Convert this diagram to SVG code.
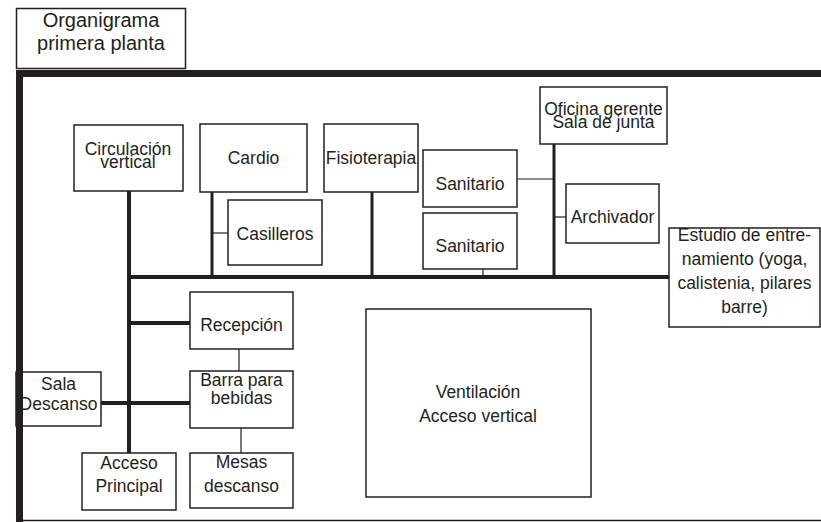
<svg xmlns="http://www.w3.org/2000/svg" width="821" height="522" viewBox="0 0 821 522">
<style>
.box{fill:#fff;stroke:#231f20;stroke-width:1.5}
.t{font-family:"Liberation Sans",Arial,sans-serif;font-size:17.5px;fill:#231f20;text-anchor:middle}
.title{font-size:20px}
.thick{stroke:#231f20;stroke-width:4;fill:none}
.mid{stroke:#231f20;stroke-width:3;fill:none}
.thin{stroke:#231f20;stroke-width:1.2;fill:none}
.frame{fill:#231f20}
</style>
<rect width="821" height="522" fill="#fff"/>
<g id="title">
<rect class="box" x="16.5" y="8.5" width="169" height="60"/>
<text class="t title" x="101" y="27">Organigrama</text>
<text class="t title" x="101" y="50">primera planta</text>
</g>
<g id="frame">
<rect class="frame" x="16" y="70" width="805" height="7"/>
<rect class="frame" x="16" y="70" width="7" height="452"/>
<line x1="16" y1="520.5" x2="821" y2="520.5" stroke="#231f20" stroke-width="1.5"/>
</g>
<g id="connectors">
<line class="thick" x1="129" y1="191" x2="129" y2="453"/>
<line class="thick" x1="127" y1="277" x2="669" y2="277"/>
<line class="mid" x1="212" y1="192" x2="212" y2="277"/>
<line class="thin" x1="212" y1="233" x2="228" y2="233"/>
<line class="mid" x1="372" y1="192" x2="372" y2="277"/>
<line class="mid" x1="554" y1="144" x2="554" y2="277"/>
<line class="thin" x1="517" y1="179" x2="554" y2="179"/>
<line class="thin" x1="554" y1="217" x2="566" y2="217"/>
<line class="thin" x1="483" y1="269" x2="483" y2="277"/>
<line class="thick" x1="129" y1="323" x2="190" y2="323"/>
<line class="thick" x1="101" y1="403" x2="190" y2="403"/>
<line class="thin" x1="239" y1="349" x2="239" y2="371"/>
<line class="thin" x1="241" y1="428" x2="241" y2="453"/>
</g>
<g id="circulacion">
<rect class="box" x="74" y="125" width="109" height="66"/>
<text class="t" x="128" y="155">Circulación</text>
<text class="t" x="128" y="168">vertical</text>
</g>
<g id="cardio">
<rect class="box" x="200" y="124" width="107" height="68"/>
<text class="t" x="253.5" y="164">Cardio</text>
</g>
<g id="casilleros">
<rect class="box" x="228" y="200" width="94" height="65"/>
<text class="t" x="275" y="240">Casilleros</text>
</g>
<g id="fisioterapia">
<rect class="box" x="324" y="124" width="94" height="68"/>
<text class="t" x="371" y="164">Fisioterapia</text>
</g>
<g id="sanitario1">
<rect class="box" x="423" y="150" width="94" height="57"/>
<text class="t" x="470" y="190">Sanitario</text>
</g>
<g id="sanitario2">
<rect class="box" x="423" y="213" width="94" height="56"/>
<text class="t" x="470" y="252">Sanitario</text>
</g>
<g id="oficina">
<rect class="box" x="540" y="87" width="127" height="57"/>
<text class="t" x="603.5" y="115">Oficina gerente</text>
<text class="t" x="603.5" y="128">Sala de junta</text>
</g>
<g id="archivador">
<rect class="box" x="566" y="184" width="93" height="59"/>
<text class="t" x="612.5" y="223">Archivador</text>
</g>
<g id="estudio">
<rect class="box" x="669" y="228" width="151" height="99"/>
<text class="t" x="744.5" y="241">Estudio de entre-</text>
<text class="t" x="744.5" y="265">namiento (yoga,</text>
<text class="t" x="744.5" y="289">calistenia, pilares</text>
<text class="t" x="744.5" y="313">barre)</text>
</g>
<g id="recepcion">
<rect class="box" x="190" y="292" width="103" height="57"/>
<text class="t" x="241.5" y="331">Recepción</text>
</g>
<g id="barra">
<rect class="box" x="190" y="371" width="103" height="57"/>
<text class="t" x="241.5" y="386">Barra para</text>
<text class="t" x="241.5" y="404">bebidas</text>
</g>
<g id="sala">
<rect class="box" x="16" y="372" width="85" height="54"/>
<text class="t" x="58.5" y="390">Sala</text>
<text class="t" x="58.5" y="410">Descanso</text>
</g>
<g id="acceso">
<rect class="box" x="82" y="453" width="94" height="57"/>
<text class="t" x="129" y="469">Acceso</text>
<text class="t" x="129" y="492">Principal</text>
</g>
<g id="mesas">
<rect class="box" x="190" y="453" width="103" height="55"/>
<text class="t" x="241.5" y="468">Mesas</text>
<text class="t" x="241.5" y="492">descanso</text>
</g>
<g id="ventilacion">
<rect class="box" x="366" y="309" width="225" height="188"/>
<text class="t" x="478" y="398">Ventilación</text>
<text class="t" x="478" y="422">Acceso vertical</text>
</g>
<rect class="frame" x="16" y="70" width="7" height="452"/>
</svg>
